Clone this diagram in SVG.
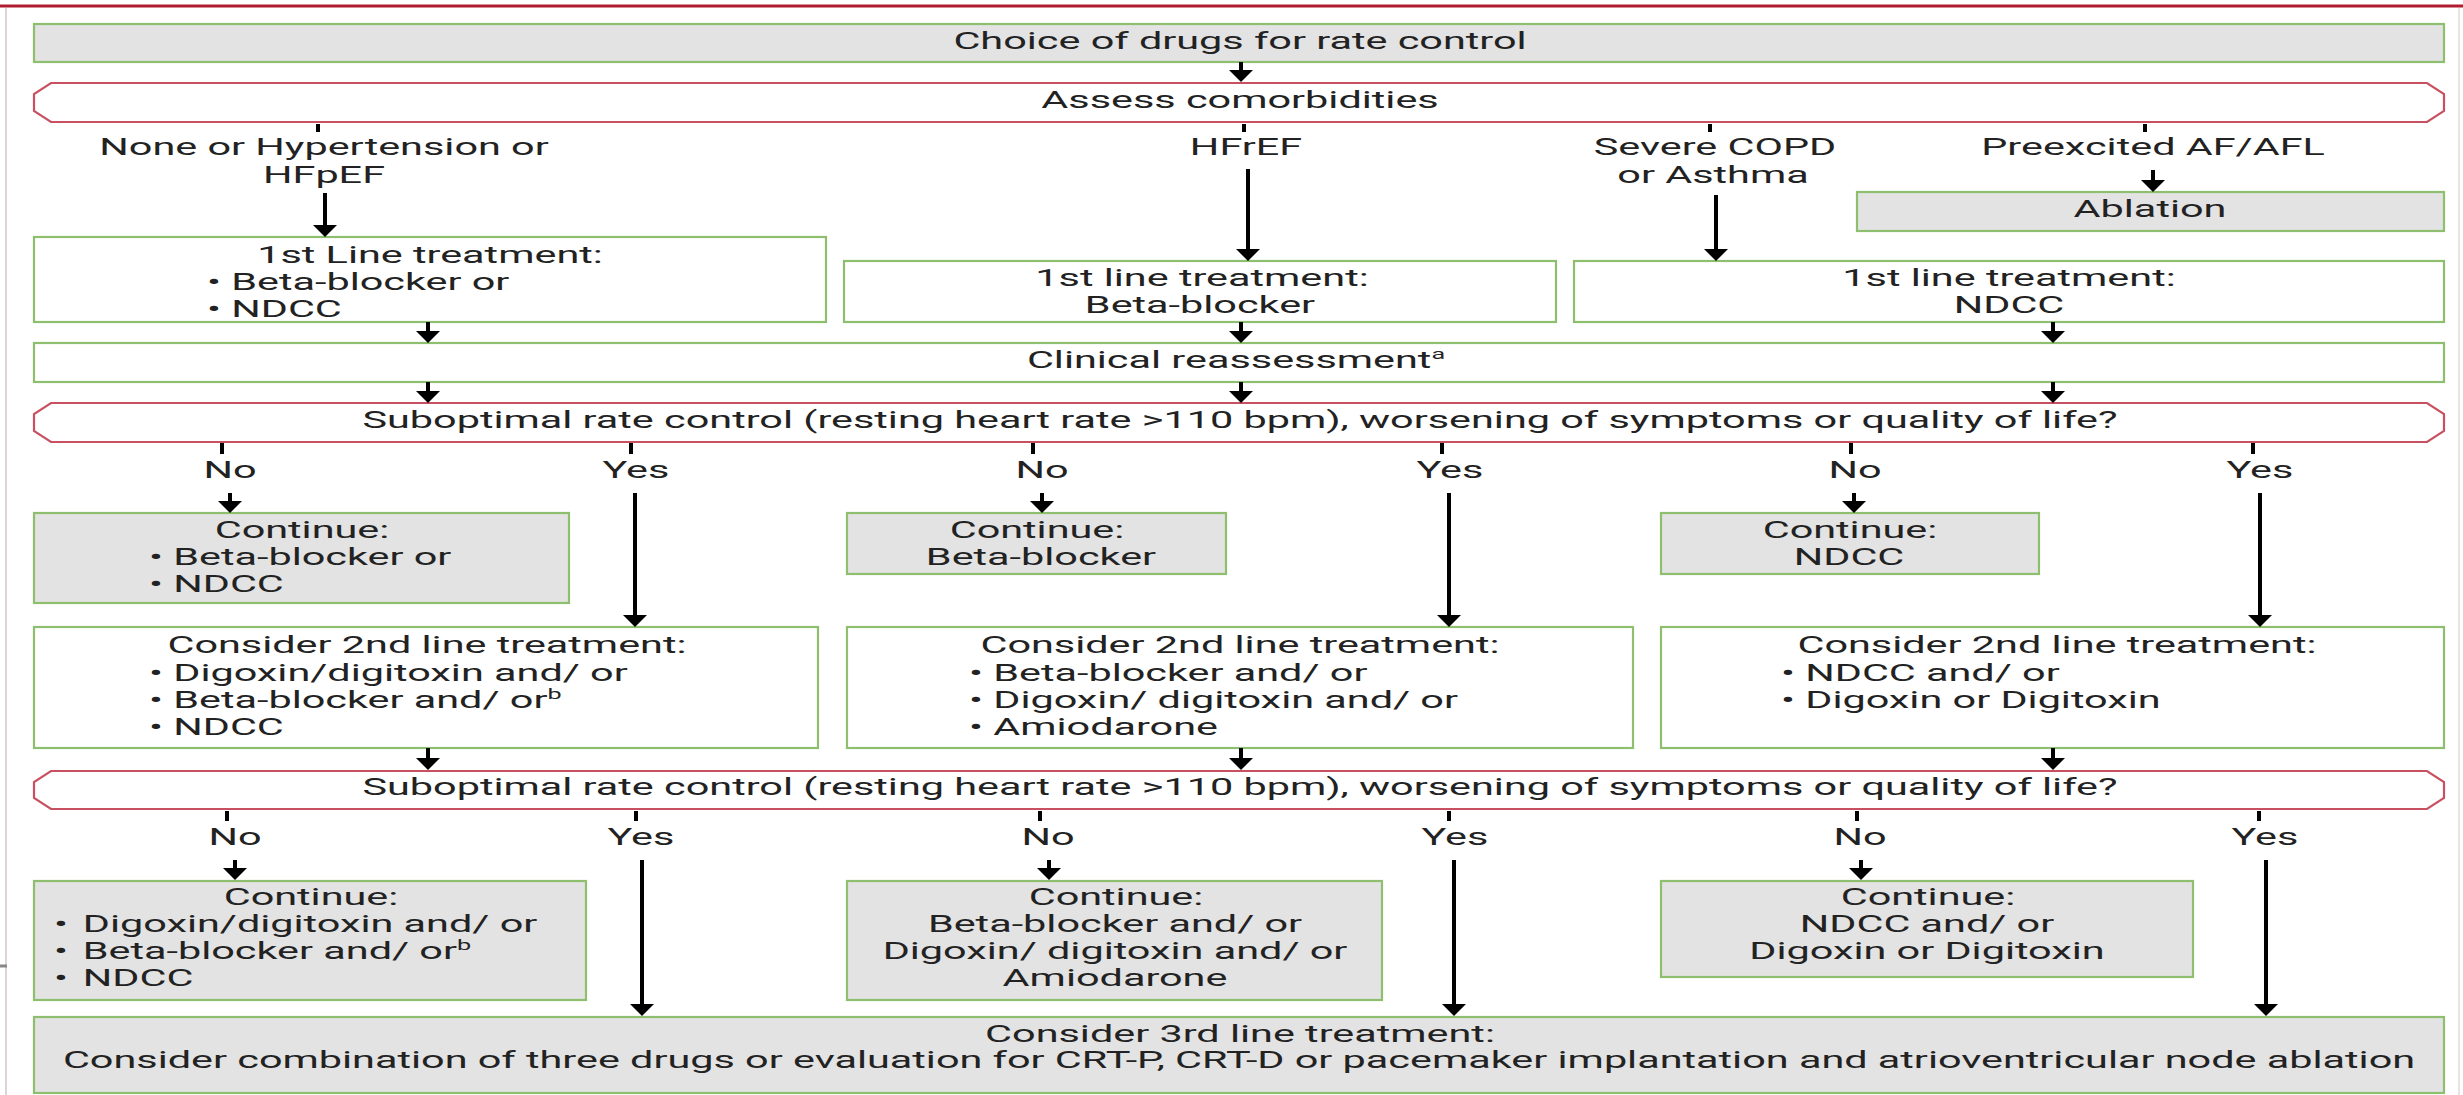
<svg xmlns="http://www.w3.org/2000/svg" width="2463" height="1095" viewBox="0 0 2463 1095">
<defs>
<style>
.t{font-family:Roboto,"Liberation Sans",sans-serif;font-size:23px;fill:#222}
.m{text-anchor:middle}
.s{text-anchor:start}
.g{fill:#e3e3e3;stroke:#8dbf6f;stroke-width:2.2}
.w{fill:#fff;stroke:#8dbf6f;stroke-width:2.2}
.r{fill:#fff;stroke:#c85060;stroke-width:2.2}
.c line{stroke:#000;stroke-width:4}
.c line.a{marker-end:url(#ah)}
.sup{font-size:14px}
</style>
<marker id="ah" markerUnits="userSpaceOnUse" markerWidth="12" markerHeight="24" viewBox="0 0 12 24" refX="1" refY="12" orient="auto">
<path d="M0,0 L12,12 L0,24 Z" fill="#000"/>
</marker>
</defs>
<rect width="2463" height="1095" fill="#fff"/>
<g id="frame">
<line x1="0" y1="6" x2="2463" y2="6" stroke="#b01c2e" stroke-width="3"/>
<line x1="6" y1="8" x2="6" y2="1095" stroke="#d4c6c7" stroke-width="1.5"/>
<line x1="2459" y1="8" x2="2459" y2="1095" stroke="#e2dada" stroke-width="1.5"/>
<line x1="0" y1="966" x2="7" y2="966" stroke="#888" stroke-width="3"/>
</g>

<g id="n-choice"><rect class="g" x="34" y="24" width="2410" height="38"/>
<text class="t m" transform="matrix(1.8,0,0,1,1240,49)">Choice of drugs for rate control</text></g>

<g id="n-assess"><path class="r" d="M51,83 H2427 L2444,94 V111 L2427,122 H51 L34,111 V94 Z"/>
<text class="t m" transform="matrix(1.8,0,0,1,1240,108)">Assess comorbidities</text></g>

<g id="l-none"><text class="t m" transform="matrix(1.8,0,0,1,324,155)">None or Hypertension or</text>
<text class="t m" transform="matrix(1.8,0,0,1,324,183)">HFpEF</text></g>
<g id="l-hfref"><text class="t m" transform="matrix(1.8,0,0,1,1246,155)">HFrEF</text></g>
<g id="l-copd"><text class="t m" transform="matrix(1.8,0,0,1,1715,155)">Severe COPD</text>
<text class="t m" transform="matrix(1.8,0,0,1,1713,183)">or Asthma</text></g>
<g id="l-pre"><text class="t m" transform="matrix(1.8,0,0,1,2153,155)">Preexcited AF/AFL</text></g>

<g id="n-ablation"><rect class="g" x="1857" y="192" width="587" height="39"/>
<text class="t m" transform="matrix(1.8,0,0,1,2150,217)">Ablation</text></g>

<g id="n-first-left"><rect class="w" x="34" y="237" width="792" height="85"/>
<text class="t m" transform="matrix(1.8,0,0,1,430,263)">1st Line treatment:</text>
<text class="t s" transform="matrix(1.8,0,0,1,207,290)">• Beta-blocker or</text>
<text class="t s" transform="matrix(1.8,0,0,1,207,317)">• NDCC</text></g>

<g id="n-first-mid"><rect class="w" x="844" y="261" width="712" height="61"/>
<text class="t m" transform="matrix(1.8,0,0,1,1202,286)">1st line treatment:</text>
<text class="t m" transform="matrix(1.8,0,0,1,1200,313)">Beta-blocker</text></g>

<g id="n-first-right"><rect class="w" x="1574" y="261" width="870" height="61"/>
<text class="t m" transform="matrix(1.8,0,0,1,2009,286)">1st line treatment:</text>
<text class="t m" transform="matrix(1.8,0,0,1,2009,313)">NDCC</text></g>

<g id="n-clinical"><rect class="w" x="34" y="343" width="2410" height="39"/>
<text class="t m" transform="matrix(1.8,0,0,1,1236,368)">Clinical reassessment<tspan class="sup" dy="-9">a</tspan></text></g>

<g id="n-sub1"><path class="r" d="M51,403 H2427 L2444,414 V431 L2427,442 H51 L34,431 V414 Z"/>
<text class="t m" transform="matrix(1.8,0,0,1,1240,428)">Suboptimal rate control (resting heart rate &gt;110 bpm), worsening of symptoms or quality of life?</text></g>

<g id="l-yn1">
<text class="t m" transform="matrix(1.8,0,0,1,230,478)">No</text>
<text class="t m" transform="matrix(1.8,0,0,1,636,478)">Yes</text>
<text class="t m" transform="matrix(1.8,0,0,1,1042,478)">No</text>
<text class="t m" transform="matrix(1.8,0,0,1,1450,478)">Yes</text>
<text class="t m" transform="matrix(1.8,0,0,1,1855,478)">No</text>
<text class="t m" transform="matrix(1.8,0,0,1,2260,478)">Yes</text>
</g>

<g id="n-cont1-left"><rect class="g" x="34" y="513" width="535" height="90"/>
<text class="t m" transform="matrix(1.8,0,0,1,302,538)">Continue:</text>
<text class="t s" transform="matrix(1.8,0,0,1,149,565)">• Beta-blocker or</text>
<text class="t s" transform="matrix(1.8,0,0,1,149,592)">• NDCC</text></g>

<g id="n-cont1-mid"><rect class="g" x="847" y="513" width="379" height="61"/>
<text class="t m" transform="matrix(1.8,0,0,1,1037,538)">Continue:</text>
<text class="t m" transform="matrix(1.8,0,0,1,1041,565)">Beta-blocker</text></g>

<g id="n-cont1-right"><rect class="g" x="1661" y="513" width="378" height="61"/>
<text class="t m" transform="matrix(1.8,0,0,1,1850,538)">Continue:</text>
<text class="t m" transform="matrix(1.8,0,0,1,1849,565)">NDCC</text></g>

<g id="n-second-left"><rect class="w" x="34" y="627" width="784" height="121"/>
<text class="t m" transform="matrix(1.8,0,0,1,427,653)">Consider 2nd line treatment:</text>
<text class="t s" transform="matrix(1.8,0,0,1,149,681)">• Digoxin/digitoxin and/ or</text>
<text class="t s" transform="matrix(1.8,0,0,1,149,708)">• Beta-blocker and/ or<tspan class="sup" dy="-9">b</tspan></text>
<text class="t s" transform="matrix(1.8,0,0,1,149,735)">• NDCC</text></g>

<g id="n-second-mid"><rect class="w" x="847" y="627" width="786" height="121"/>
<text class="t m" transform="matrix(1.8,0,0,1,1240,653)">Consider 2nd line treatment:</text>
<text class="t s" transform="matrix(1.8,0,0,1,969,681)">• Beta-blocker and/ or</text>
<text class="t s" transform="matrix(1.8,0,0,1,969,708)">• Digoxin/ digitoxin and/ or</text>
<text class="t s" transform="matrix(1.8,0,0,1,969,735)">• Amiodarone</text></g>

<g id="n-second-right"><rect class="w" x="1661" y="627" width="783" height="121"/>
<text class="t m" transform="matrix(1.8,0,0,1,2057,653)">Consider 2nd line treatment:</text>
<text class="t s" transform="matrix(1.8,0,0,1,1781,681)">• NDCC and/ or</text>
<text class="t s" transform="matrix(1.8,0,0,1,1781,708)">• Digoxin or Digitoxin</text></g>

<g id="n-sub2"><path class="r" d="M51,771 H2427 L2444,782 V798 L2427,809 H51 L34,798 V782 Z"/>
<text class="t m" transform="matrix(1.8,0,0,1,1240,795)">Suboptimal rate control (resting heart rate &gt;110 bpm), worsening of symptoms or quality of life?</text></g>

<g id="l-yn2">
<text class="t m" transform="matrix(1.8,0,0,1,235,845)">No</text>
<text class="t m" transform="matrix(1.8,0,0,1,641,845)">Yes</text>
<text class="t m" transform="matrix(1.8,0,0,1,1048,845)">No</text>
<text class="t m" transform="matrix(1.8,0,0,1,1455,845)">Yes</text>
<text class="t m" transform="matrix(1.8,0,0,1,1860,845)">No</text>
<text class="t m" transform="matrix(1.8,0,0,1,2265,845)">Yes</text>
</g>

<g id="n-cont2-left"><rect class="g" x="34" y="881" width="552" height="119"/>
<text class="t m" transform="matrix(1.8,0,0,1,311,905)">Continue:</text>
<text class="t s" transform="matrix(1.8,0,0,1,54,932)">•<tspan x="16">Digoxin/digitoxin and/ or</tspan></text>
<text class="t s" transform="matrix(1.8,0,0,1,54,959)">•<tspan x="16">Beta-blocker and/ or</tspan><tspan class="sup" dy="-9">b</tspan></text>
<text class="t s" transform="matrix(1.8,0,0,1,54,986)">•<tspan x="16">NDCC</tspan></text></g>

<g id="n-cont2-mid"><rect class="g" x="847" y="881" width="535" height="119"/>
<text class="t m" transform="matrix(1.8,0,0,1,1116,905)">Continue:</text>
<text class="t m" transform="matrix(1.8,0,0,1,1115,932)">Beta-blocker and/ or</text>
<text class="t m" transform="matrix(1.8,0,0,1,1115,959)">Digoxin/ digitoxin and/ or</text>
<text class="t m" transform="matrix(1.8,0,0,1,1115,986)">Amiodarone</text></g>

<g id="n-cont2-right"><rect class="g" x="1661" y="881" width="532" height="96"/>
<text class="t m" transform="matrix(1.8,0,0,1,1928,905)">Continue:</text>
<text class="t m" transform="matrix(1.8,0,0,1,1927,932)">NDCC and/ or</text>
<text class="t m" transform="matrix(1.8,0,0,1,1927,959)">Digoxin or Digitoxin</text></g>

<g id="n-third"><rect class="g" x="34" y="1017" width="2410" height="76"/>
<text class="t m" transform="matrix(1.8,0,0,1,1240,1042)">Consider 3rd line treatment:</text>
<text class="t m" transform="matrix(1.8,0,0,1,1239,1068)">Consider combination of three drugs or evaluation for CRT-P, CRT-D or pacemaker implantation and atrioventricular node ablation</text></g>

<g id="connectors" class="c">
<line class="a" x1="1241" y1="62" x2="1241" y2="71"/>
<line x1="318" y1="124" x2="318" y2="132"/>
<line x1="1244" y1="124" x2="1244" y2="132"/>
<line x1="1710" y1="124" x2="1710" y2="132"/>
<line x1="2145" y1="124" x2="2145" y2="132"/>
<line class="a" x1="325" y1="193" x2="325" y2="226"/>
<line class="a" x1="1248" y1="169" x2="1248" y2="250"/>
<line class="a" x1="1716" y1="195" x2="1716" y2="250"/>
<line class="a" x1="2153" y1="170" x2="2153" y2="181"/>
<line class="a" x1="428" y1="322" x2="428" y2="332"/>
<line class="a" x1="1241" y1="322" x2="1241" y2="332"/>
<line class="a" x1="2053" y1="322" x2="2053" y2="332"/>
<line class="a" x1="428" y1="382" x2="428" y2="392"/>
<line class="a" x1="1241" y1="382" x2="1241" y2="392"/>
<line class="a" x1="2053" y1="382" x2="2053" y2="392"/>
<line x1="222" y1="443" x2="222" y2="454"/>
<line x1="631" y1="443" x2="631" y2="454"/>
<line x1="1033" y1="443" x2="1033" y2="454"/>
<line x1="1442" y1="443" x2="1442" y2="454"/>
<line x1="1851" y1="443" x2="1851" y2="454"/>
<line x1="2253" y1="443" x2="2253" y2="454"/>
<line class="a" x1="230" y1="493" x2="230" y2="502"/>
<line class="a" x1="1042" y1="493" x2="1042" y2="502"/>
<line class="a" x1="1854" y1="493" x2="1854" y2="502"/>
<line class="a" x1="635" y1="493" x2="635" y2="616"/>
<line class="a" x1="1449" y1="493" x2="1449" y2="616"/>
<line class="a" x1="2260" y1="493" x2="2260" y2="616"/>
<line class="a" x1="428" y1="748" x2="428" y2="759"/>
<line class="a" x1="1241" y1="748" x2="1241" y2="759"/>
<line class="a" x1="2053" y1="748" x2="2053" y2="759"/>
<line x1="227" y1="811" x2="227" y2="821"/>
<line x1="636" y1="811" x2="636" y2="821"/>
<line x1="1040" y1="811" x2="1040" y2="821"/>
<line x1="1449" y1="811" x2="1449" y2="821"/>
<line x1="1857" y1="811" x2="1857" y2="821"/>
<line x1="2259" y1="811" x2="2259" y2="821"/>
<line class="a" x1="235" y1="860" x2="235" y2="869"/>
<line class="a" x1="1049" y1="860" x2="1049" y2="869"/>
<line class="a" x1="1861" y1="860" x2="1861" y2="869"/>
<line class="a" x1="642" y1="860" x2="642" y2="1005"/>
<line class="a" x1="1454" y1="860" x2="1454" y2="1005"/>
<line class="a" x1="2266" y1="860" x2="2266" y2="1005"/>
</g>
</svg>
